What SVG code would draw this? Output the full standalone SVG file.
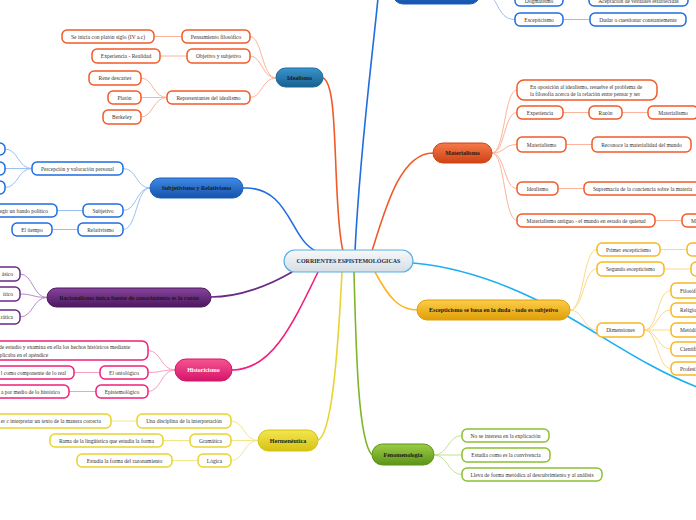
<svg xmlns="http://www.w3.org/2000/svg" width="696" height="520" viewBox="0 0 696 520">
<defs>
<linearGradient id="gCenter" x1="0" y1="0" x2="0" y2="1"><stop offset="0" stop-color="#f7f9fb"/><stop offset="1" stop-color="#d5dee5"/></linearGradient>
<linearGradient id="gBlue" x1="0" y1="0" x2="0" y2="1"><stop offset="0" stop-color="#3f8ae6"/><stop offset="1" stop-color="#1553ab"/></linearGradient>
<linearGradient id="gTeal" x1="0" y1="0" x2="0" y2="1"><stop offset="0" stop-color="#3a94cc"/><stop offset="1" stop-color="#18608f"/></linearGradient>
<linearGradient id="gOrange" x1="0" y1="0" x2="0" y2="1"><stop offset="0" stop-color="#f57a4a"/><stop offset="1" stop-color="#cf4214"/></linearGradient>
<linearGradient id="gPurple" x1="0" y1="0" x2="0" y2="1"><stop offset="0" stop-color="#86449c"/><stop offset="1" stop-color="#4c1760"/></linearGradient>
<linearGradient id="gPink" x1="0" y1="0" x2="0" y2="1"><stop offset="0" stop-color="#f65592"/><stop offset="1" stop-color="#d6146a"/></linearGradient>
<linearGradient id="gYellow" x1="0" y1="0" x2="0" y2="1"><stop offset="0" stop-color="#f3e650"/><stop offset="1" stop-color="#d6c214"/></linearGradient>
<linearGradient id="gGreen" x1="0" y1="0" x2="0" y2="1"><stop offset="0" stop-color="#9ccd46"/><stop offset="1" stop-color="#5c9416"/></linearGradient>
<linearGradient id="gGold" x1="0" y1="0" x2="0" y2="1"><stop offset="0" stop-color="#fdcd48"/><stop offset="1" stop-color="#e09e08"/></linearGradient>
</defs>
<style>
text{font-family:"Liberation Serif","DejaVu Serif",serif;font-size:5.5px;fill:#333;}
.m{font-weight:bold;font-size:6px;fill:#1a1a1a;text-anchor:middle;}
.c{text-anchor:middle;}
.e{text-anchor:end;}
.box{fill:#fff;stroke-width:1.5;}
.o{stroke:#f05a28;} .b{stroke:#1f6ee0;} .p{stroke:#6a2a85;} .k{stroke:#f0207a;} .y{stroke:#e8d430;} .g{stroke:#8cc034;} .a{stroke:#f8b820;}
.main{fill:none;stroke-width:1.6;}
.sub{fill:none;stroke-width:1;}
</style>

<g id="connectors">
  <path class="main" d="M355 251 C360 150,372 60,378 -2" stroke="#1f6ee0"/>
  <path class="main" d="M323 78 C333 82,334 120,336 170 S340 240,343 251" stroke="#f05a28"/>
  <path class="main" d="M243 188 C290 186,290 240,316 251" stroke="#1f6ee0"/>
  <path class="main" d="M372 251 C385 210,400 153,433 153" stroke="#f05a28"/>
  <path class="main" d="M413 263 C470 268,520 290,560 312 S650 370,700 388" stroke="#1ab0f0"/>
  <path class="main" d="M375 272 C390 300,400 310,418 310" stroke="#f8b820"/>
  <path class="main" d="M354 272 C356 350,358 440,372 455" stroke="#7fb52a"/>
  <path class="main" d="M342 272 C338 350,332 435,318 440" stroke="#e8d430"/>
  <path class="main" d="M318 272 C290 330,270 370,232 370" stroke="#f0207a"/>
  <path class="main" d="M292 272 C270 285,240 297,211 297" stroke="#6a2a85"/>

  <g class="sub" stroke="#fbb49a">
    <path d="M276 78 C262 78,262 36.5,250 36.5"/>
    <path d="M276 78 C262 78,262 56,250 56"/>
    <path d="M276 78 C262 78,262 97.5,250 97.5"/>
    <path d="M182 36.5 L154 36.5"/>
    <path d="M187 56 L160 56"/>
    <path d="M167 97.5 C153 97.5,153 78,141 78"/>
    <path d="M167 97.5 L141 97.5"/>
    <path d="M167 97.5 C153 97.5,153 117,141 117"/>
    <path d="M492 153 C505 153,504 90,517 90"/>
    <path d="M492 153 C505 153,504 112.5,517 112.5"/>
    <path d="M492 153 C505 153,504 144.5,517 144.5"/>
    <path d="M492 153 C505 153,504 188.5,517 188.5"/>
    <path d="M492 153 C505 153,504 220.5,517 220.5"/>
    <path d="M563 112.5 L589 112.5"/>
    <path d="M622 112.5 L648 112.5"/>
    <path d="M566 144.5 L592 144.5"/>
    <path d="M558 188.5 L584 188.5"/>
    <path d="M655 220.5 L682 220.5"/>
  </g>
  <g class="sub" stroke="#9cc0f0">
    <path d="M150 188 C136 188,137 168.5,123 168.5"/>
    <path d="M150 188 C136 188,137 210.5,123 210.5"/>
    <path d="M150 188 C136 188,137 229.5,123 229.5"/>
    <path d="M32 168.5 C18 168.5,18 149,5 149"/>
    <path d="M32 168.5 L5 168.5"/>
    <path d="M32 168.5 C18 168.5,18 187.5,5 187.5"/>
    <path d="M83 210.5 L57 210.5"/>
    <path d="M78 229.5 L52 229.5"/>
    <path d="M480 -8 C500 -8,495 19.5,515 19.5"/>
    <path d="M480 -8 C500 -8,500 -1,515 -1"/>
    <path d="M563 -1 L589 -1"/>
    <path d="M563 19.5 L590 19.5"/>
  </g>
  <g class="sub" stroke="#b58ac8">
    <path d="M47 297.5 C33 297.5,33 274,20 274"/>
    <path d="M47 297.5 C33 297.5,33 294,20 294"/>
    <path d="M47 297.5 C33 297.5,33 317,20 317"/>
  </g>
  <g class="sub" stroke="#f7a0c4">
    <path d="M175 370 C161 370,161 350.5,148 350.5"/>
    <path d="M175 370 C161 370,161 372.5,148 372.5"/>
    <path d="M175 370 C161 370,161 391.5,148 391.5"/>
    <path d="M100 372.5 L74 372.5"/>
    <path d="M96 391.5 L69 391.5"/>
  </g>
  <g class="sub" stroke="#f3e68a">
    <path d="M258 440.5 C244 440.5,244 421,231 421"/>
    <path d="M258 440.5 L231 440.5"/>
    <path d="M258 440.5 C244 440.5,244 460.5,231 460.5"/>
    <path d="M137 421 L111 421"/>
    <path d="M190 440.5 L163 440.5"/>
    <path d="M198 460.5 L172 460.5"/>
  </g>
  <g class="sub" stroke="#c4e08a">
    <path d="M434 455 C448 455,448 435.5,462 435.5"/>
    <path d="M434 455 L462 455"/>
    <path d="M434 455 C448 455,448 474.5,462 474.5"/>
  </g>
  <g class="sub" stroke="#fcd98a">
    <path d="M570 310 C584 310,583 249.5,597 249.5"/>
    <path d="M570 310 C584 310,583 269,597 269"/>
    <path d="M570 310 C584 310,583 330,597 330"/>
    <path d="M660 249.5 L687 249.5"/>
    <path d="M664 269 L691 269"/>
    <path d="M644 330 C658 330,657 290.5,671 290.5"/>
    <path d="M644 330 C658 330,657 310,671 310"/>
    <path d="M644 330 L671 330"/>
    <path d="M644 330 C658 330,657 349,671 349"/>
    <path d="M644 330 C658 330,657 368.5,671 368.5"/>
  </g>
</g>

<g id="center">
  <rect x="284" y="250" width="129" height="22" rx="11" fill="url(#gCenter)" stroke="#5aaee0" stroke-width="1.2"/>
  <text class="m" x="348.5" y="263" fill="#1e2a44" style="fill:#1e2a44">CORRIENTES ESPISTEMOLÓGICAS</text>
</g>

<g id="top-blue">
  <rect x="393" y="-20" width="87" height="24" rx="10" fill="url(#gBlue)" stroke="#1a5fc0"/>
</g>
<g id="dogmatismo"><rect class="box b" x="515" y="-8" width="48" height="14" rx="5"/><text class="c" x="539" y="3">Dogmatismo</text></g>
<g id="aceptacion"><rect class="box b" x="589" y="-8" width="99" height="14" rx="5"/><text class="c" x="638.5" y="3">Aceptación de verdades establecidas</text></g>
<g id="escepticismo-b"><rect class="box b" x="515" y="13" width="48" height="13" rx="5"/><text class="c" x="539" y="21.5">Escepticismo</text></g>
<g id="dudar"><rect class="box b" x="590" y="13" width="96" height="13" rx="5"/><text class="c" x="638" y="21.5">Dudar o cuestionar constantemente</text></g>

<g id="idealismo">
  <rect x="276" y="68" width="47" height="19" rx="9.5" fill="url(#gTeal)" stroke="#1a6aa0"/>
  <text class="m" x="299.5" y="79.8">Idealismo</text>
</g>
<g id="pensamiento"><rect class="box o" x="182" y="30" width="68" height="13" rx="5"/><text class="c" x="216" y="38.5">Pensamiento filosófico</text></g>
<g id="se-inicia"><rect class="box o" x="62" y="30" width="92" height="13" rx="5"/><text class="c" x="108" y="38.5">Se inicia con platón siglo (IV a.c)</text></g>
<g id="objetivo"><rect class="box o" x="187" y="49" width="63" height="14" rx="5"/><text class="c" x="218.5" y="58">Objetivo y subjetivo</text></g>
<g id="experiencia-realidad"><rect class="box o" x="92" y="49" width="68" height="14" rx="5"/><text class="c" x="126" y="58">Experiencia - Realidad</text></g>
<g id="representantes"><rect class="box o" x="167" y="91" width="83" height="13" rx="5"/><text class="c" x="208.5" y="99.5">Representantes del idealismo</text></g>
<g id="rene"><rect class="box o" x="89" y="71" width="52" height="14" rx="5"/><text class="c" x="115" y="80">Rene descartes</text></g>
<g id="platon"><rect class="box o" x="108" y="91" width="33" height="13" rx="5"/><text class="c" x="124.5" y="99.5">Platón</text></g>
<g id="berkeley"><rect class="box o" x="103" y="110" width="38" height="14" rx="5"/><text class="c" x="122" y="119">Berkeley</text></g>

<g id="subjetivismo">
  <rect x="150" y="178" width="93" height="20" rx="10" fill="url(#gBlue)" stroke="#1a5fc0"/>
  <text class="m" x="196.5" y="190">Subjetivismo y Relativismo</text>
</g>
<g id="percepcion"><rect class="box b" x="32" y="162" width="91" height="13" rx="5"/><text class="c" x="77.5" y="170.5">Percepción y valoración personal</text></g>
<g id="cut1"><rect class="box b" x="-40" y="143" width="45" height="12" rx="5"/></g>
<g id="cut2"><rect class="box b" x="-40" y="162" width="45" height="13" rx="5"/></g>
<g id="cut3"><rect class="box b" x="-40" y="181" width="45" height="13" rx="5"/></g>
<g id="subjetivo"><rect class="box b" x="83" y="204" width="40" height="13" rx="5"/><text class="c" x="103" y="212.5">Subjetivo</text></g>
<g id="bando"><rect class="box b" x="-30" y="204" width="87" height="13" rx="5"/><text class="e" x="48" y="212.5">egir un bando político</text></g>
<g id="relativismo"><rect class="box b" x="78" y="223" width="45" height="13" rx="5"/><text class="c" x="100.5" y="231.5">Relativismo</text></g>
<g id="tiempo"><rect class="box b" x="12" y="223" width="40" height="13" rx="5"/><text class="c" x="32" y="231.5">El tiempo</text></g>

<g id="racionalismo">
  <rect x="47" y="288" width="164" height="19" rx="9.5" fill="url(#gPurple)" stroke="#4c1760"/>
  <text class="m" x="129" y="299.5">Racionalismo única fuente de conocimiento es la razón</text>
</g>
<g id="rac1"><rect class="box p" x="-40" y="267" width="60" height="14" rx="5"/><text class="e" x="13" y="276">ásico</text></g>
<g id="rac2"><rect class="box p" x="-40" y="287" width="60" height="14" rx="5"/><text class="e" x="13" y="296">írico</text></g>
<g id="rac3"><rect class="box p" x="-40" y="310" width="60" height="14" rx="5"/><text class="e" x="13" y="319">rática</text></g>

<g id="historicismo">
  <rect x="175" y="359" width="57" height="22" rx="11" fill="url(#gPink)" stroke="#d6146a"/>
  <text class="m" x="203.5" y="372" style="fill:#fff">Historicismo</text>
</g>
<g id="hist-big"><rect class="box k" x="-20" y="341" width="168" height="19" rx="6"/><text x="-1" y="349">de estudio y examina en ella los hechos históricos mediante</text><text x="-3" y="356.5">aplicaba en el apéndice</text></g>
<g id="ontologico"><rect class="box k" x="100" y="366" width="48" height="13" rx="5"/><text class="c" x="124" y="374.5">El ontológico</text></g>
<g id="componente"><rect class="box k" x="-30" y="366" width="104" height="13" rx="5"/><text class="e" x="66" y="374.5">l como componente de lo real</text></g>
<g id="epistemologico"><rect class="box k" x="96" y="385" width="52" height="13" rx="5"/><text class="c" x="122" y="393.5">Epistemológico</text></g>
<g id="historico"><rect class="box k" x="-30" y="385" width="99" height="13" rx="5"/><text class="e" x="60" y="393.5">a por medio de lo histórico</text></g>

<g id="hermeneutica">
  <rect x="258" y="430" width="60" height="21" rx="10.5" fill="url(#gYellow)" stroke="#d6c214"/>
  <text class="m" x="288" y="442.5">Hermenéutica</text>
</g>
<g id="disciplina"><rect class="box y" x="137" y="414" width="94" height="14" rx="5"/><text class="c" x="184" y="423">Una disciplina de la interpretación</text></g>
<g id="interpretar"><rect class="box y" x="-20" y="414" width="131" height="14" rx="5"/><text class="e" x="101" y="423">er  c interpretar un texto de la manera correcta</text></g>
<g id="gramatica"><rect class="box y" x="190" y="434" width="41" height="13" rx="5"/><text class="c" x="210.5" y="442.5">Gramática</text></g>
<g id="rama"><rect class="box y" x="50" y="434" width="113" height="13" rx="5"/><text class="c" x="106.5" y="442.5">Rama de la lingüística que estudia la forma</text></g>
<g id="logica"><rect class="box y" x="198" y="454" width="33" height="13" rx="5"/><text class="c" x="214.5" y="462.5">Lógica</text></g>
<g id="razonamiento"><rect class="box y" x="77" y="454" width="95" height="13" rx="5"/><text class="c" x="124.5" y="462.5">Estudia la forma del razonamiento</text></g>

<g id="fenomenologia">
  <rect x="372" y="444" width="62" height="21" rx="10.5" fill="url(#gGreen)" stroke="#5c9416"/>
  <text class="m" x="403" y="456.5">Fenomenología</text>
</g>
<g id="fen1"><rect class="box g" x="462" y="429" width="87" height="13" rx="5"/><text class="c" x="505.5" y="437.5">No se interesa en la explicación</text></g>
<g id="fen2"><rect class="box g" x="462" y="448" width="88" height="14" rx="5"/><text class="c" x="506" y="457">Estudia como es  la convivencia</text></g>
<g id="fen3"><rect class="box g" x="462" y="468" width="140" height="13" rx="5"/><text class="c" x="532" y="476.5">Lleva de forma metódica al descubrimiento y al análisis</text></g>

<g id="materialismo">
  <rect x="433" y="143" width="59" height="20" rx="10" fill="url(#gOrange)" stroke="#cf4214"/>
  <text class="m" x="462.5" y="155">Materialismo</text>
</g>
<g id="oposicion"><rect class="box o" x="517" y="80" width="140" height="20" rx="7"/><text x="530" y="88.5">En oposición al idealismo, resuelve el problema de</text><text x="530" y="95.5">la filosofía acerca de la relación entre pensar y ser</text></g>
<g id="experiencia"><rect class="box o" x="517" y="106" width="46" height="13" rx="5"/><text class="c" x="540" y="114.5">Experiencia</text></g>
<g id="razon"><rect class="box o" x="589" y="106" width="33" height="13" rx="5"/><text class="c" x="605.5" y="114.5">Razón</text></g>
<g id="materialismo-r"><rect class="box o" x="648" y="106" width="50" height="13" rx="5"/><text class="c" x="673" y="114.5">Materialismo</text></g>
<g id="materialismo2"><rect class="box o" x="517" y="137" width="49" height="15" rx="5"/><text class="c" x="541.5" y="146.5">Materialismo</text></g>
<g id="reconoce"><rect class="box o" x="592" y="137" width="99" height="15" rx="5"/><text class="c" x="641.5" y="146.5">Reconoce la materialidad del mundo</text></g>
<g id="idealismo2"><rect class="box o" x="517" y="182" width="41" height="13" rx="5"/><text class="c" x="537.5" y="190.5">Idealismo</text></g>
<g id="supremacia"><rect class="box o" x="584" y="182" width="120" height="13" rx="5"/><text x="593" y="190.5">Supremacía de la conciencia sobre  la materia</text></g>
<g id="antiguo"><rect class="box o" x="517" y="214" width="138" height="13" rx="5"/><text class="c" x="586" y="222.5">Materialismo antiguo - el mundo en estado de quietud</text></g>
<g id="m-cut"><rect class="box o" x="682" y="214" width="40" height="13" rx="5"/><text x="691" y="222.5">M</text></g>

<g id="escepticismo">
  <rect x="417" y="300" width="153" height="20" rx="10" fill="url(#gGold)" stroke="#e09e08"/>
  <text class="m" x="493.5" y="312">Escepticismo se basa en la duda - todo es subjetivo</text>
</g>
<g id="primer"><rect class="box a" x="597" y="243" width="63" height="13" rx="5"/><text class="c" x="628.5" y="251.5">Primer escepticismo</text></g>
<g id="primer-r"><rect class="box a" x="687" y="243" width="30" height="13" rx="5"/></g>
<g id="segundo"><rect class="box a" x="597" y="262" width="67" height="14" rx="5"/><text class="c" x="630.5" y="271">Segundo escepticismo</text></g>
<g id="segundo-r"><rect class="box a" x="691" y="262" width="30" height="14" rx="5"/></g>
<g id="dimensiones"><rect class="box a" x="597" y="323" width="47" height="14" rx="5"/><text class="c" x="620.5" y="332">Dimensiones</text></g>
<g id="dim1"><rect class="box a" x="671" y="283" width="40" height="15" rx="5"/><text x="680" y="292.5">Filosófi</text></g>
<g id="dim2"><rect class="box a" x="671" y="303" width="40" height="14" rx="5"/><text x="680" y="312">Religio</text></g>
<g id="dim3"><rect class="box a" x="671" y="323" width="40" height="14" rx="5"/><text x="680" y="332">Metódi</text></g>
<g id="dim4"><rect class="box a" x="671" y="342" width="40" height="14" rx="5"/><text x="680" y="351">Científi</text></g>
<g id="dim5"><rect class="box a" x="671" y="362" width="40" height="13" rx="5"/><text x="680" y="370.5">Profesi</text></g>
</svg>
